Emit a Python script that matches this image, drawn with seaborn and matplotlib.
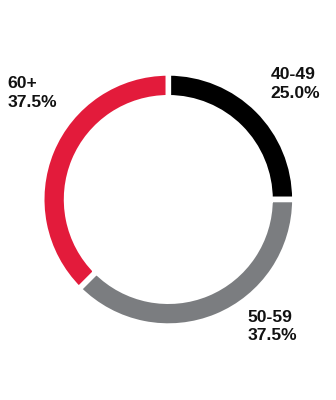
import matplotlib
matplotlib.use("Agg")
import matplotlib.pyplot as plt
import seaborn as sns
import numpy as np
import pandas as pd

# ---- data ----
categories = ["40-49", "50-59", "60+"]
shares = [25.0, 37.5, 37.5]
colors = ["#000000", "#7b7d80", "#e31b3b"]

df = pd.DataFrame({"age": categories, "share": shares})

sns.set_theme(style="white")
plt.rcParams["font.family"] = ["Liberation Sans", "DejaVu Sans"]

W, H = 336, 400
fig = plt.figure(figsize=(W / 100, H / 100), dpi=100)
fig.patch.set_facecolor("white")

# ring geometry (pixels)
cx, cy = 168.3, 199.5
lw_pt = 4
gap_px = lw_pt * 100 / 72
R_vis, r_in_vis = 123.8, 104.5
R = R_vis + gap_px / 2
r_in = r_in_vis - gap_px / 2
ring_w = (R - r_in) / R

ax = fig.add_axes([(cx - R) / W, (H - cy - R) / H, 2 * R / W, 2 * R / H])
ax.pie(df["share"], colors=colors, startangle=90, counterclock=False, radius=1,
       wedgeprops=dict(width=ring_w, edgecolor="white", linewidth=lw_pt))
ax.set_xlim(-1, 1)
ax.set_ylim(-1, 1)
ax.set_aspect("equal")
ax.axis("off")

# labels (left x, top y in pixels)
label_pos = {"40-49": (270.5, 67), "50-59": (247.5, 309.5), "60+": (7.5, 76.5)}
for cat, val in zip(df["age"], df["share"]):
    x, y = label_pos[cat]
    fig.text(x / W, 1 - y / H, f"{cat}\n{val:.1f}%", ha="left", va="top",
             fontsize=12.6, fontweight="bold", color="#111111", linespacing=1.3)

fig.savefig("out.png", dpi=100)
